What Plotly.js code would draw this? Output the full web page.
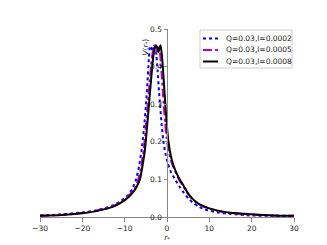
<!DOCTYPE html>
<html>
<head>
<meta charset="utf-8">
<script src="https://cdn.plot.ly/plotly-3.0.1.min.js"></script>
<style>html,body{margin:0;padding:0;background:#fff;}#chart{width:327px;height:245px;}</style>
</head>
<body>
<div id="chart"></div>
<script>
// Series: Q=0.03, l=0.0002 (blue dotted)
const rBlue = [-30,-25,-20,-17,-14,-12,-10,-9,-8.2,-7.3,-6.6,-6.0,-5.4,-4.96,-4.6,-4.3,-4.0,-3.7,-3.4,-3.1,-2.8,-2.5,-2.2,-1.9,-1.65,-1.3,-0.9,-0.4,0.2,0.9,1.9,3,4,5,6,7.4,9,12,15,20,25,30];
const vBlue = [0.004,0.007,0.012,0.017,0.026,0.035,0.05,0.06,0.075,0.1,0.135,0.178,0.24,0.30,0.36,0.42,0.455,0.45,0.44,0.452,0.457,0.43,0.385,0.335,0.30,0.25,0.205,0.17,0.143,0.12,0.10,0.08,0.064,0.05,0.039,0.028,0.02,0.012,0.008,0.004,0.003,0.002];
// Series: Q=0.03, l=0.0005 (magenta dash-dot)
const rMag = [-30,-25,-20,-17,-14,-12,-10,-9,-8,-7.5,-6.8,-6.1,-5.5,-5.0,-4.56,-4.1,-3.7,-3.3,-3.0,-2.7,-2.4,-2.15,-1.9,-1.6,-1.3,-1.0,-0.75,-0.45,-0.1,0.3,0.8,1.4,2.1,2.8,3.8,4.8,5.8,6.8,8,10,12,15,20,25,30];
const vMag = [0.0035,0.0055,0.011,0.016,0.024,0.033,0.047,0.057,0.07,0.08,0.1,0.135,0.18,0.24,0.30,0.36,0.41,0.445,0.457,0.45,0.438,0.45,0.457,0.43,0.385,0.335,0.295,0.25,0.21,0.18,0.155,0.135,0.117,0.1,0.082,0.065,0.05,0.04,0.031,0.022,0.016,0.01,0.006,0.004,0.003];
// Series: Q=0.03, l=0.0008 (black solid)
const rBlack = [-30,-25,-20,-17,-14,-12,-10,-9,-8,-7.2,-6.4,-5.8,-5.2,-4.7,-4.25,-3.8,-3.4,-3.0,-2.6,-2.3,-2.0,-1.75,-1.5,-1.2,-0.9,-0.6,-0.3,0,0.3,0.7,1.1,1.6,2.2,3,4,5,6,7,8,10,12,15,20,25,30];
const vBlack = [0.003,0.005,0.01,0.015,0.023,0.031,0.045,0.054,0.066,0.08,0.1,0.135,0.18,0.24,0.30,0.36,0.41,0.445,0.457,0.45,0.438,0.45,0.457,0.43,0.385,0.335,0.285,0.24,0.205,0.175,0.153,0.135,0.118,0.1,0.082,0.062,0.049,0.039,0.032,0.023,0.017,0.011,0.007,0.004,0.003];

const names = ['Q=0.03,l=0.0002','Q=0.03,l=0.0005','Q=0.03,l=0.0008'];
const xTicks = [-30,-20,-10,0,10,20,30];
const yTicks = [0.0,0.1,0.2,0.3,0.4,0.5];

const colors = ['#0000ff','#bf00bf','#000000'];
const dashes = ['dot','dashdot','solid'];
const font = 'DejaVu Sans, sans-serif';
const W = 327, H = 245, M = {l:40, r:33, t:29, b:28};
const px2x = p => (p - M.l) / (W - M.l - M.r);
const px2y = p => (H - M.b - p) / (H - M.t - M.b);

const series = [[rBlue,vBlue],[rMag,vMag],[rBlack,vBlack]];
const traces = series.map((s,i) => ({
  x:s[0], y:s[1], name:names[i], mode:'lines', showlegend:false,
  line:{color:colors[i], width:2, dash:dashes[i], shape:'spline', smoothing:0.5}
}));

// compact legend (box, samples, labels)
const shapes = [{type:'rect', xref:'paper', yref:'paper', x0:px2x(200), x1:px2x(292), y0:px2y(30), y1:px2y(68), line:{color:'#cccccc', width:1}, fillcolor:'rgba(255,255,255,0.85)', layer:'above'}];
const annotations = [];
const rowY = [38.5, 50, 61.5];
names.forEach((n,i) => {
  shapes.push({type:'line', xref:'paper', yref:'paper', x0:px2x(203), x1:px2x(218), y0:px2y(rowY[i]), y1:px2y(rowY[i]), line:{color:colors[i], width:2, dash:dashes[i]}, layer:'above'});
  annotations.push({xref:'paper', yref:'paper', x:px2x(224), y:px2y(rowY[i]), xanchor:'left', yanchor:'middle', text:n, showarrow:false, font:{size:7.5, color:'#222'}});
});
annotations.push({xref:'paper', yref:'paper', x:px2x(146), y:px2y(37), text:'<i>V</i>(<i>r</i><sub>*</sub>)', textangle:-90, showarrow:false, font:{size:7.5, color:'#222'}});

const layout = {
  width:W, height:H,
  margin:{l:M.l, r:M.r, t:M.t, b:M.b, pad:0},
  paper_bgcolor:'#fff', plot_bgcolor:'#fff',
  font:{family:font, size:7.5, color:'#222'},
  showlegend:false,
  xaxis:{range:[-30,30], tickvals:xTicks, showline:true, linecolor:'#888', linewidth:1, ticks:'outside', ticklen:3.5, tickcolor:'#888', showgrid:false, zeroline:false, tickfont:{size:7.5, color:'#222'}, title:{text:'<i>r</i><sub>*</sub>', font:{size:7.5}, standoff:2}},
  yaxis:{range:[0,0.5], tickvals:yTicks, tickformat:'.1f', anchor:'free', position:0.5, showline:true, linecolor:'#888', linewidth:1, ticks:'outside', ticklen:3.5, tickcolor:'#888', showgrid:false, zeroline:false, tickfont:{size:7.5, color:'#222'}},
  shapes:shapes,
  annotations:annotations
};
Plotly.newPlot('chart', traces, layout, {displayModeBar:false, staticPlot:true});
</script>
</body>
</html>
